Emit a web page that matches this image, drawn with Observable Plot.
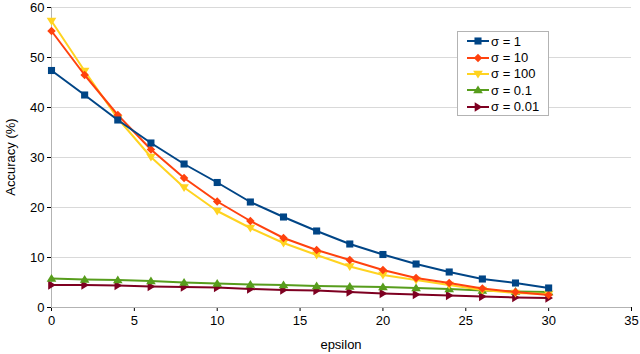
<!DOCTYPE html>
<html>
<head>
<meta charset="utf-8">
<script src="https://cdn.jsdelivr.net/npm/d3@7"></script>
<script src="https://cdn.jsdelivr.net/npm/@observablehq/plot@0.6"></script>
<style>
  html, body { margin: 0; padding: 0; background: #fff; }
  #wrap { position: relative; width: 640px; height: 354px; font-family: "Liberation Sans", Arial, sans-serif; }
  #legend { position: absolute; left: 457px; top: 31px; width: 92px; height: 85px; border: 1px solid #b3b3b3; background: #fff; box-sizing: border-box; padding: 1px 0 0 9px; }
  .item { display: flex; align-items: center; height: 16.4px; font-size: 13px; color: #000; white-space: nowrap; }
  .item svg { margin-right: 2px; }
  .axlabel { position: absolute; font-size: 13px; color: #000; white-space: nowrap; }
</style>
</head>
<body>
<div id="wrap"><div id="chart"></div><div id="legend"></div>
<div class="axlabel" id="xlab"></div><div class="axlabel" id="ylab"></div></div>
<script>
const epsilon = [0, 2, 4, 6, 8, 10, 12, 14, 16, 18, 20, 22, 24, 26, 28, 30];
const sigma1   = [47.4, 42.5, 37.5, 32.9, 28.7, 25.0, 21.1, 18.1, 15.3, 12.7, 10.6, 8.7, 7.1, 5.7, 4.9, 3.9];
const sigma10  = [55.3, 46.5, 38.5, 31.6, 25.9, 21.2, 17.3, 13.9, 11.5, 9.5, 7.5, 5.9, 4.9, 3.8, 3.1, 2.5];
const sigma100 = [57.3, 47.3, 37.8, 30.1, 24.0, 19.3, 15.9, 12.9, 10.5, 8.2, 6.5, 5.5, 4.5, 3.5, 2.9, 2.7];
const sigma01  = [5.8, 5.6, 5.5, 5.3, 5.0, 4.8, 4.6, 4.5, 4.3, 4.2, 4.1, 3.9, 3.7, 3.4, 3.2, 3.1];
const sigma001 = [4.5, 4.5, 4.4, 4.2, 4.1, 4.0, 3.7, 3.5, 3.4, 3.1, 2.8, 2.6, 2.4, 2.2, 2.0, 1.9];
const seriesNames = ["σ = 1", "σ = 10", "σ = 100", "σ = 0.1", "σ = 0.01"];
const seriesValues = [sigma1, sigma10, sigma100, sigma01, sigma001];
const colors = ["#004586", "#ff420e", "#ffd320", "#579d1c", "#7e0021"];
const xTicks = [0, 5, 10, 15, 20, 25, 30, 35];
const yTicks = [0, 10, 20, 30, 40, 50, 60];
const xLabel = "epsilon";
const yLabel = "Accuracy (%)";

const triDown = {draw(ctx, size) { const h = Math.sqrt(size) * 0.62; ctx.moveTo(-h * 1.1, -h * 0.75); ctx.lineTo(h * 1.1, -h * 0.75); ctx.lineTo(0, h * 1.0); ctx.closePath(); }};
const triUp = {draw(ctx, size) { const h = Math.sqrt(size) * 0.62; ctx.moveTo(-h * 1.1, h * 0.75); ctx.lineTo(h * 1.1, h * 0.75); ctx.lineTo(0, -h * 1.0); ctx.closePath(); }};
const triRight = {draw(ctx, size) { const h = Math.sqrt(size) * 0.62; ctx.moveTo(-h * 0.75, -h * 1.1); ctx.lineTo(-h * 0.75, h * 1.1); ctx.lineTo(h * 1.0, 0); ctx.closePath(); }};
const diamond = {draw(ctx, size) { const h = Math.sqrt(size) * 0.6; ctx.moveTo(0, -h); ctx.lineTo(h, 0); ctx.lineTo(0, h); ctx.lineTo(-h, 0); ctx.closePath(); }};
const square = {draw(ctx, size) { const h = Math.sqrt(size) * 0.5; ctx.rect(-h, -h, 2 * h, 2 * h); }};
const symbols = [square, diamond, triDown, triUp, triRight];

const data = [];
seriesNames.forEach((name, i) => epsilon.forEach((e, j) => data.push({series: name, idx: i, epsilon: e, acc: seriesValues[i][j]})));

const marks = [
  Plot.ruleY(yTicks.slice(1), {stroke: "#d9d9d9", strokeWidth: 1}),
  Plot.ruleY([0], {stroke: "#b3b3b3"}),
  Plot.ruleX([0], {stroke: "#b3b3b3"})
];
for (let i = seriesNames.length - 1; i >= 0; i--) {
  const d = data.filter(r => r.idx === i);
  marks.push(Plot.line(d, {x: "epsilon", y: "acc", stroke: colors[i], strokeWidth: 2}));
  marks.push(Plot.dot(d, {x: "epsilon", y: "acc", fill: colors[i], stroke: "none", r: 4, symbol: symbols[i]}));
}

const chart = Plot.plot({
  width: 640,
  height: 354,
  marginLeft: 51,
  marginRight: 9,
  marginTop: 7,
  marginBottom: 47,
  style: {fontFamily: "Liberation Sans, Arial, sans-serif", fontSize: "13px", color: "#000", background: "#fff"},
  x: {domain: [0, 35], ticks: xTicks, tickSize: 4, tickPadding: 4, label: null},
  y: {domain: [0, 60], ticks: yTicks, tickSize: 4, tickPadding: 3, label: null},
  marks
});
document.getElementById("chart").appendChild(chart);

const sx = chart.scale("x"), sy = chart.scale("y");
const xmid = (sx.range[0] + sx.range[1]) / 2;
const ymid = (sy.range[0] + sy.range[1]) / 2;
d3.select("#xlab").text(xLabel).style("left", xmid + "px").style("top", "337px").style("transform", "translateX(-50%)");
d3.select("#ylab").text(yLabel).style("left", "10px").style("top", ymid + "px").style("transform", "translate(-50%,-50%) rotate(-90deg)");

const legend = d3.select("#legend");
seriesNames.forEach((name, i) => {
  const item = legend.append("div").attr("class", "item");
  const svg = item.append("svg").attr("width", 22).attr("height", 14);
  svg.append("line").attr("x1", 0).attr("x2", 22).attr("y1", 7).attr("y2", 7).attr("stroke", colors[i]).attr("stroke-width", 2);
  svg.append("path").attr("transform", "translate(11,7)").attr("d", d3.symbol(symbols[i], 50)()).attr("fill", colors[i]);
  item.append("span").text(name);
});
</script>
</body>
</html>
